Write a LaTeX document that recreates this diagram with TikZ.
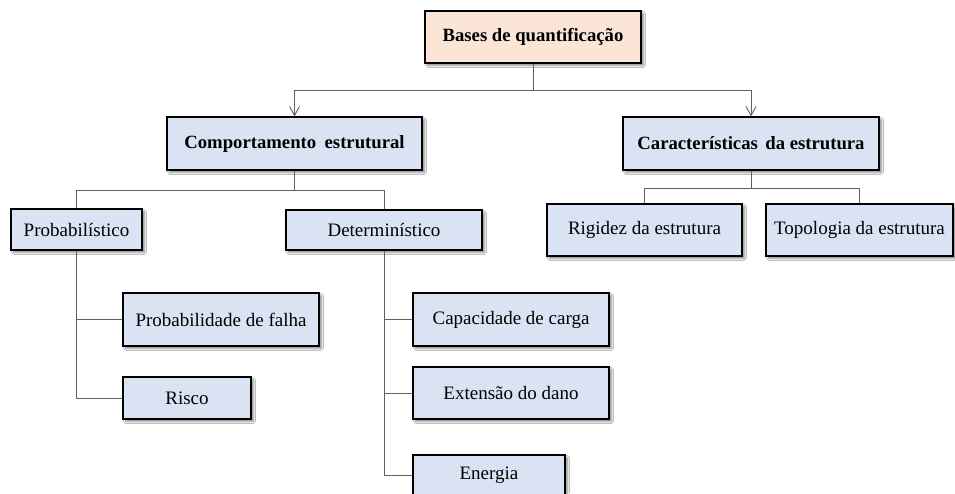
\documentclass[tikz,border=0pt]{standalone}
\usepackage{fontspec}
\setmainfont{Liberation Serif}
\usetikzlibrary{arrows.meta,shadows.blur}
\definecolor{boxblue}{HTML}{DAE3F3}
\definecolor{boxpeach}{HTML}{FBE5D6}
\definecolor{conncol}{HTML}{606060}
\tikzset{
  box/.style={draw=black, line width=1.2pt, fill=boxblue, rectangle, inner sep=0pt,
    font=\fontsize{19pt}{21pt}\selectfont,
    blur shadow={shadow xshift=2.5pt, shadow yshift=-2.5pt, shadow blur steps=6, shadow opacity=45}},
  bbox/.style={box, font=\fontsize{18.7pt}{20pt}\selectfont\bfseries},
  conn/.style={draw=conncol, line width=1pt},
  arr/.style={conn, -{Straight Barb[length=9pt,width=10pt,line width=0.9pt]}}
}
\begin{document}
\begin{tikzpicture}[x=1pt,y=-1pt]
\clip (0,0) rectangle (955,493);
\fill[white] (0,0) rectangle (955,493);
% nodes
\node[bbox, fill=boxpeach, minimum width=216pt, minimum height=52pt] (top) at (533,37) {Bases de quantificação};
\node[bbox, minimum width=255pt, minimum height=53pt] (comp) at (294.5,143.5) {Comportamento\hspace{0.45em}estrutural};
\node[bbox, minimum width=256pt, minimum height=53pt] (car) at (751,143.5) {Características\hspace{0.4em}da estrutura};
\node[box, minimum width=131pt, minimum height=41pt] (prob) at (76.5,229.5) {Probabilístico};
\node[box, minimum width=196pt, minimum height=40pt] (det) at (384,230) {Determinístico};
\node[box, minimum width=196pt, minimum height=53pt] (pf) at (221,319.5) {Probabilidade de falha};
\node[box, minimum width=128pt, minimum height=42pt] (risco) at (187,398) {Risco};
\node[box, minimum width=196pt, minimum height=53pt] (cap) at (511,319.5) {Capacidade de carga};
\node[box, minimum width=196pt, minimum height=52pt] (ext) at (511,393) {Extensão do dano};
\node[box, minimum width=152pt, minimum height=40pt] (ene) at (489,475) {Energia};
\node[box, minimum width=195pt, minimum height=52pt] (rig) at (644.5,230) {Rigidez da estrutura};
\node[box, minimum width=187pt, minimum height=52pt] (topo) at (859.5,230) {Topologia da estrutura};
% junctions
\coordinate (j1) at (533,90);
\coordinate (j2) at (294.5,190);
\coordinate (j3) at (751,188);
% connectors
\draw[conn] (top.south) -- (j1);
\draw[arr] (j1) -| (comp.north);
\draw[arr] (j1) -| (car.north);
\draw[conn] (comp.south) -- (j2);
\draw[conn] (j2) -| (prob.north);
\draw[conn] (j2) -| (det.north);
\draw[conn] (prob.south) |- (pf.west);
\draw[conn] (prob.south) |- (risco.west);
\draw[conn] (det.south) |- (cap.west);
\draw[conn] (det.south) |- (ext.west);
\draw[conn] (det.south) |- (ene.west);
\draw[conn] (car.south) -- (j3);
\draw[conn] (j3) -| (rig.north);
\draw[conn] (j3) -| (topo.north);
\end{tikzpicture}
\end{document}
